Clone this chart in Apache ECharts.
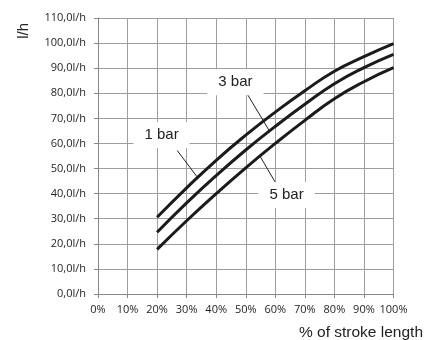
<!DOCTYPE html>
<html>
<head>
<meta charset="utf-8">
<script src="https://cdn.jsdelivr.net/npm/echarts@6/dist/echarts.min.js"></script>
<style>
  html, body { margin: 0; padding: 0; background: #fff; }
  #chart { width: 437px; height: 340px; }
</style>
</head>
<body>
<div id="chart"></div>
<script>
// Stroke length settings (% of full stroke)
const strokePct = [20, 30, 40, 50, 60, 70, 80, 90, 100];

// Flow rate in l/h at each back-pressure
const flow1bar = [30.6, 42.3, 53.3, 63.3, 72.5, 81.0, 88.8, 94.6, 99.8];
const flow3bar = [24.6, 36.3, 47.2, 57.4, 66.8, 75.6, 83.8, 90.2, 95.5];
const flow5bar = [17.8, 29.2, 40.0, 50.3, 60.0, 69.2, 77.8, 84.6, 90.2];

// Curve labels: text, label anchor [pct, l/h], leader line [from, to]
const curveLabels = [
  { text: '1 bar', at: [21.5, 63.4], leader: [[26.8, 57.2], [33.6, 46.6]] },
  { text: '3 bar', at: [46.5, 84.4], leader: [[50.3, 80.1], [58.0, 65.0]] },
  { text: '5 bar', at: [63.8, 39.5], leader: [[54.8, 55.0], [59.9, 44.7]] }
];

// Axis ranges and ticks
const xMin = 0, xMax = 100, xStep = 10;
const yMin = 0, yMax = 110, yStep = 10;

const pairs = (ys) => strokePct.map((x, i) => [x, ys[i]]);

const tickFont = { fontFamily: 'Open Sans', fontSize: 11, color: '#262626' };
const labelFont = 'Liberation Sans';

const curveStyle = { color: '#1b1b1b', width: 3 };

const chart = echarts.init(document.getElementById('chart'), null, { renderer: 'canvas' });

chart.setOption({
  animation: false,
  backgroundColor: '#fff',
  grid: { left: 98, right: 43.5, top: 18, bottom: 46, containLabel: false },
  xAxis: {
    type: 'value',
    min: xMin, max: xMax, interval: xStep,
    axisLine: { show: true, lineStyle: { color: '#888', width: 1 } },
    axisTick: { show: true, inside: false, length: 4, lineStyle: { color: '#888' } },
    axisLabel: Object.assign({ margin: 10, formatter: '{value}%' }, tickFont),
    splitLine: { show: true, lineStyle: { color: '#9e9e9e', width: 1 } }
  },
  yAxis: {
    type: 'value',
    min: yMin, max: yMax, interval: yStep,
    axisLine: { show: true, lineStyle: { color: '#888', width: 1 } },
    axisTick: { show: true, inside: false, length: 4, lineStyle: { color: '#888' } },
    axisLabel: Object.assign({
      margin: 12,
      formatter: (v) => v.toFixed(1).replace('.', ',') + 'l/h'
    }, tickFont),
    splitLine: { show: true, lineStyle: { color: '#9e9e9e', width: 1 } }
  },
  series: [
    {
      name: '1 bar', type: 'line', data: pairs(flow1bar),
      smooth: 0.5, showSymbol: false, lineStyle: curveStyle, z: 5,
      // label boxes and their leader lines
      markPoint: {
        silent: true,
        symbol: 'rect', symbolSize: 0,
        data: curveLabels.map(l => ({
          coord: l.at, value: l.text,
          label: {
            show: true, position: 'inside', formatter: l.text,
            fontFamily: labelFont, fontSize: 15, color: '#222',
            backgroundColor: '#fff', padding: [6, 11, 5, 11]
          }
        }))
      },
      markLine: {
        silent: true, symbol: 'none',
        lineStyle: { color: '#222', width: 1, type: 'solid' },
        label: { show: false },
        data: curveLabels.map(l => [{ coord: l.leader[0] }, { coord: l.leader[1] }])
      }
    },
    {
      name: '3 bar', type: 'line', data: pairs(flow3bar),
      smooth: 0.5, showSymbol: false, lineStyle: curveStyle, z: 5
    },
    {
      name: '5 bar', type: 'line', data: pairs(flow5bar),
      smooth: 0.5, showSymbol: false, lineStyle: curveStyle, z: 5
    }
  ],
  graphic: [
    {
      type: 'text', left: 16, top: 23, rotation: Math.PI / 2,
      style: { text: 'l/h', font: '15px "Liberation Sans"', fill: '#222' }
    },
    {
      type: 'text', right: 14, top: 325,
      style: { text: '% of stroke length', font: '15.5px "Liberation Sans"', fill: '#222' }
    }
  ]
});
</script>
</body>
</html>
